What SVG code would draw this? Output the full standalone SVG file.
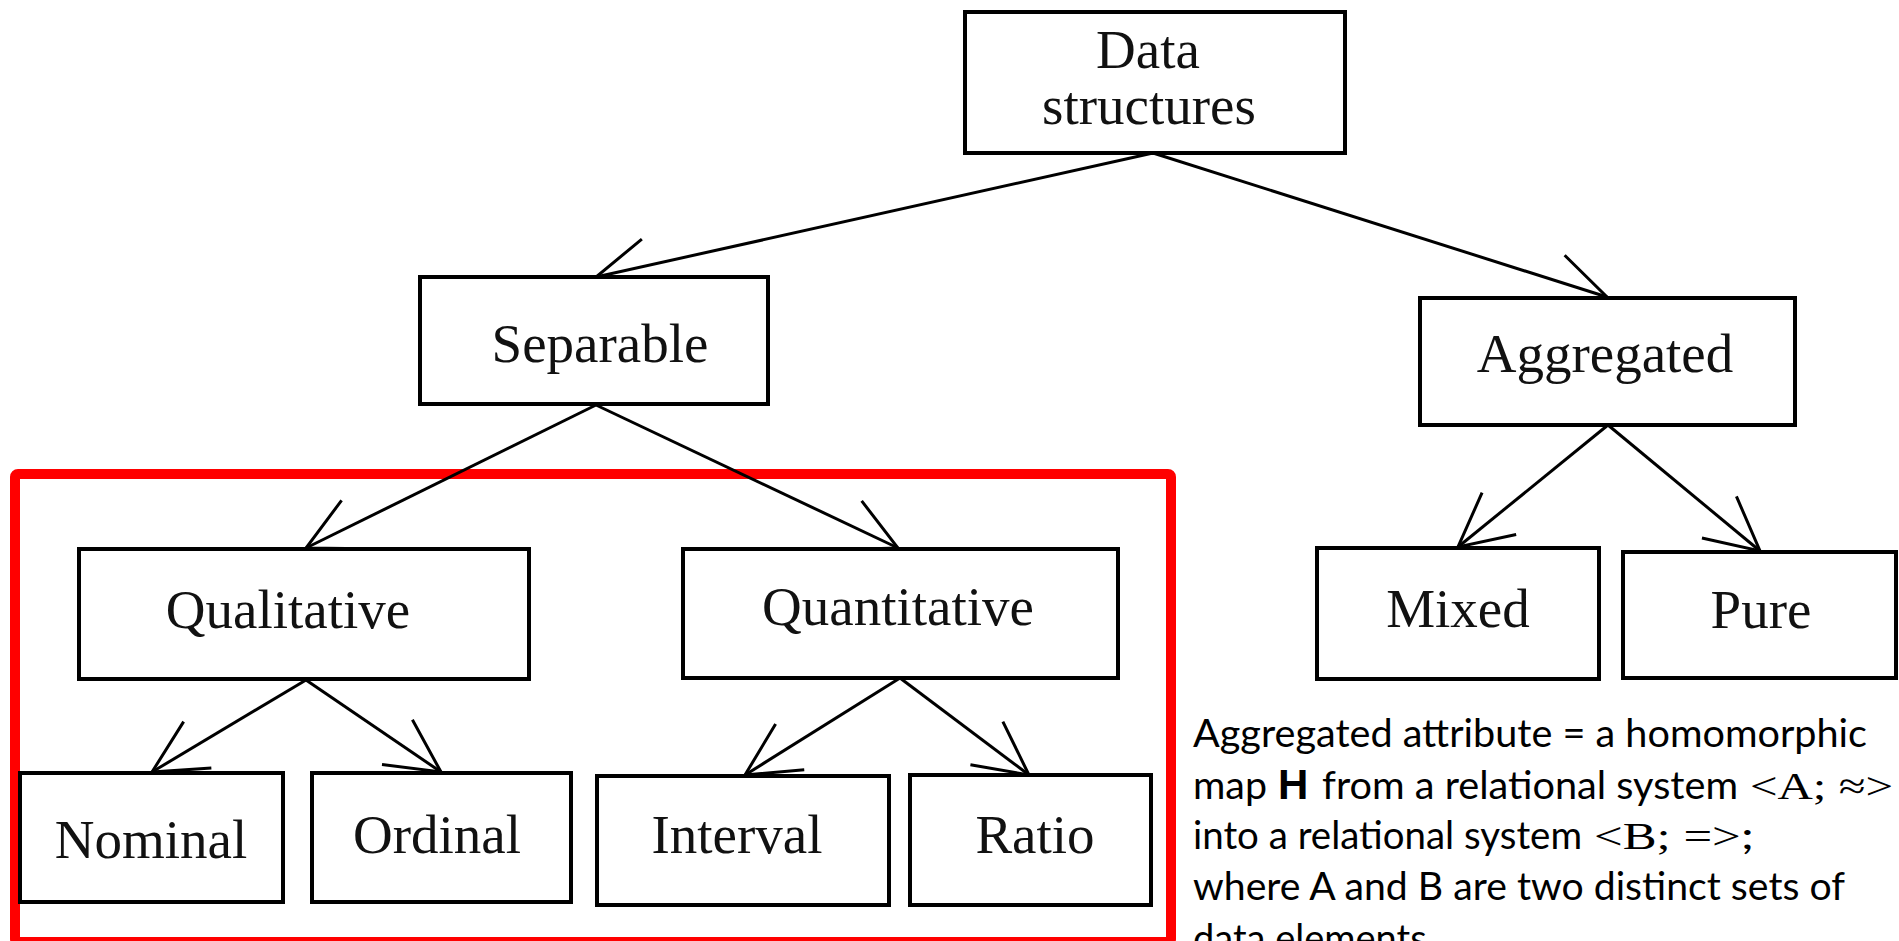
<svg xmlns="http://www.w3.org/2000/svg" width="1899" height="941" viewBox="0 0 1899 941">
<style>
.box{fill:#fff;stroke:#000;stroke-width:4}
.lbl{font-family:"Liberation Serif","Times New Roman",serif;font-size:55px;fill:#111;text-anchor:middle}
.conn{stroke:#000;stroke-width:3;fill:none}
.note{font-family:Lato,"Open Sans",sans-serif;font-size:38px;fill:#000}
.math{font-family:"Liberation Serif","DejaVu Serif",serif}
</style>
<defs>
<marker id="arr" markerUnits="userSpaceOnUse" markerWidth="70" markerHeight="70" viewBox="-60 -35 70 70" refX="0" refY="0" orient="auto">
<path d="M-53,-27 L0,0 L-53,27" fill="none" stroke="#000" stroke-width="3"/>
</marker>
</defs>
<rect width="1899" height="941" fill="#fff"/>
<rect id="highlight" x="15" y="474" width="1156" height="468" rx="3" fill="none" stroke="#ff0000" stroke-width="10"/>
<g id="connectors">
<line class="conn" x1="1153" y1="153" x2="596" y2="277" marker-end="url(#arr)"/>
<line class="conn" x1="1153" y1="153" x2="1607" y2="297" marker-end="url(#arr)"/>
<line class="conn" x1="596" y1="405" x2="306" y2="548" marker-end="url(#arr)"/>
<line class="conn" x1="596" y1="405" x2="898" y2="548" marker-end="url(#arr)"/>
<line class="conn" x1="1608" y1="425" x2="1458" y2="547" marker-end="url(#arr)"/>
<line class="conn" x1="1608" y1="425" x2="1760" y2="551" marker-end="url(#arr)"/>
<line class="conn" x1="306" y1="680" x2="152" y2="772" marker-end="url(#arr)"/>
<line class="conn" x1="306" y1="680" x2="441" y2="772" marker-end="url(#arr)"/>
<line class="conn" x1="900" y1="678" x2="745" y2="775" marker-end="url(#arr)"/>
<line class="conn" x1="900" y1="678" x2="1029" y2="775" marker-end="url(#arr)"/>
</g>
<g id="data-structures"><rect class="box" x="965" y="12" width="380" height="141"/><text class="lbl" x="1148" y="68">Data</text><text class="lbl" x="1149" y="124">structures</text></g>
<g id="separable"><rect class="box" x="420" y="277" width="348" height="127"/><text class="lbl" x="600" y="362">Separable</text></g>
<g id="aggregated"><rect class="box" x="1420" y="298" width="375" height="127"/><text class="lbl" x="1605" y="372">Aggregated</text></g>
<g id="qualitative"><rect class="box" x="79" y="549" width="450" height="130"/><text class="lbl" x="288" y="628">Qualitative</text></g>
<g id="quantitative"><rect class="box" x="683" y="549" width="435" height="129"/><text class="lbl" x="898" y="625">Quantitative</text></g>
<g id="mixed"><rect class="box" x="1317" y="548" width="282" height="131"/><text class="lbl" x="1458" y="627">Mixed</text></g>
<g id="pure"><rect class="box" x="1623" y="552" width="273" height="126"/><text class="lbl" x="1761" y="628">Pure</text></g>
<g id="nominal"><rect class="box" x="20" y="773" width="263" height="129"/><text class="lbl" x="151" y="858">Nominal</text></g>
<g id="ordinal"><rect class="box" x="312" y="773" width="259" height="129"/><text class="lbl" x="437" y="853">Ordinal</text></g>
<g id="interval"><rect class="box" x="597" y="776" width="292" height="129"/><text class="lbl" x="737" y="853">Interval</text></g>
<g id="ratio"><rect class="box" x="910" y="775" width="241" height="130"/><text class="lbl" x="1035" y="853">Ratio</text></g>
<g id="note">
<text class="note" x="1193" y="747" textLength="674" lengthAdjust="spacingAndGlyphs">Aggregated attribute = a homomorphic</text>
<text class="note" x="1193" y="799" textLength="74" lengthAdjust="spacingAndGlyphs">map</text>
<text x="1278" y="799" font-family="'Liberation Sans',Arial,sans-serif" font-weight="bold" font-size="42" fill="#000">H</text>
<text class="note" x="1322" y="799" textLength="416" lengthAdjust="spacingAndGlyphs">from a relational system</text>
<text class="note math" x="1750" y="799" textLength="143" lengthAdjust="spacingAndGlyphs">&lt;A; ≈&gt;</text>
<text class="note" x="1193" y="849" textLength="389" lengthAdjust="spacingAndGlyphs">into a relational system</text>
<text class="note" x="1594" y="849" textLength="160" lengthAdjust="spacingAndGlyphs"><tspan class="math">&lt;B; =&gt;</tspan>;</text>
<text class="note" x="1193" y="900" textLength="652" lengthAdjust="spacingAndGlyphs">where A and B are two distinct sets of</text>
<text class="note" x="1193" y="952">data elements</text>
</g>
</svg>
